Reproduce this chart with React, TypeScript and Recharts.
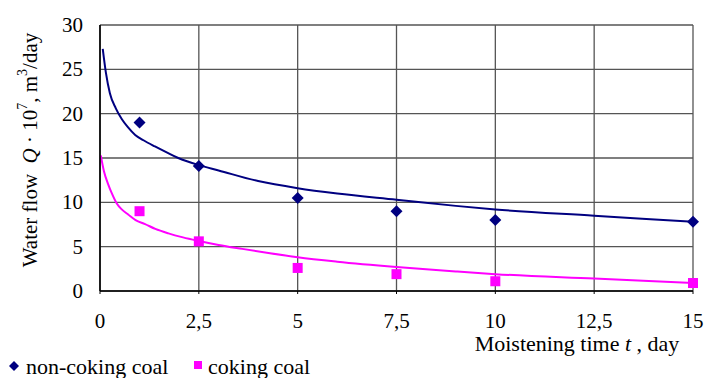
import {
  ComposedChart,
  Line,
  Scatter,
  XAxis,
  YAxis,
  CartesianGrid
} from 'recharts';

// measured points
const timeDays = [1, 2.5, 5, 7.5, 10, 15];
const nonCokingFlow = [19.0, 14.1, 10.5, 9.0, 8.0, 7.8];
const cokingFlow = [9.0, 5.6, 2.6, 1.9, 1.1, 0.9];

// trend lines
const nonCokingTrendTime = [0.07, 0.15, 0.25, 0.4, 0.55, 0.7, 0.89, 1.1, 1.39, 1.7, 1.98, 2.5, 3, 4, 5, 6, 7.5, 9, 10, 12.5, 15];
const nonCokingTrend = [27.3, 24.6, 22.3, 20.6, 19.4, 18.5, 17.6, 17.0, 16.3, 15.6, 15.0, 14.2, 13.6, 12.4, 11.6, 11.0, 10.3, 9.6, 9.2, 8.5, 7.8];
const cokingTrendTime = [0.02, 0.1, 0.21, 0.3, 0.42, 0.55, 0.72, 0.9, 1.14, 1.4, 1.73, 2.1, 2.5, 3, 3.6, 4.3, 5, 6, 7.5, 9, 10, 12.5, 15];
const cokingTrend = [15.3, 13.5, 12.0, 11.0, 9.9, 9.2, 8.6, 8.0, 7.55, 7.0, 6.5, 6.05, 5.65, 5.2, 4.75, 4.25, 3.8, 3.3, 2.7, 2.2, 1.9, 1.4, 0.9];

const xTicks = [0, 2.5, 5, 7.5, 10, 12.5, 15];
const yTicks = [0, 5, 10, 15, 20, 25, 30];

const NAVY = '#000080';
const MAGENTA = '#FF00FF';
const FONT = '"Liberation Serif", "Times New Roman", serif';

const zip = (xs: number[], ys: number[]) => xs.map((x, i) => ({ x, y: ys[i] }));

const nonCokingPoints = zip(timeDays, nonCokingFlow);
const cokingPoints = zip(timeDays, cokingFlow);
const nonCokingLine = zip(nonCokingTrendTime, nonCokingTrend);
const cokingLine = zip(cokingTrendTime, cokingTrend);

const Diamond = (props: any) => {
  const { cx, cy } = props;
  const r = 6;
  return <path d={`M${cx},${cy - r}L${cx + r},${cy}L${cx},${cy + r}L${cx - r},${cy}Z`} fill={NAVY} />;
};

const Square = (props: any) => {
  const { cx, cy } = props;
  return <rect x={cx - 5} y={cy - 5} width={10} height={10} fill={MAGENTA} />;
};

const XTick = (props: any) => {
  const { x, y, payload } = props;
  return (
    <text x={x} y={y} textAnchor='middle' dy={14} fontFamily={FONT} fontSize={21} fill='#000'>
      {String(payload.value).replace('.', ',')}
    </text>
  );
};

const YTick = (props: any) => {
  const { x, y, payload } = props;
  return (
    <text x={x} y={y} textAnchor='end' dy={7} fontFamily={FONT} fontSize={21} fill='#000'>
      {payload.value}
    </text>
  );
};

const YTitle = () => (
  <text
    x={30}
    y={150}
    transform='rotate(-90 30 150)'
    textAnchor='middle'
    dominantBaseline='central'
    fontFamily={FONT}
    fontSize={21}
    fill='#000'
  >
    Water flow{'\u00a0\u00a0'}
    <tspan fontStyle='italic'>Q</tspan>
    {' \u00b7 10'}
    <tspan dy={-8} fontSize={14}>7</tspan>
    <tspan dy={8}>, m</tspan>
    <tspan dy={-8} fontSize={14}>3</tspan>
    <tspan dy={8}>/day</tspan>
  </text>
);

const XTitle = () => (
  <text x={577} y={351} textAnchor='middle' fontFamily={FONT} fontSize={22} fill='#000'>
    Moistening time <tspan fontStyle='italic'>t</tspan> , day
  </text>
);

const LegendSvg = () => (
  <g fontFamily={FONT} fontSize={22} fill='#000'>
    <path d='M14,361L19,366L14,371L9,366Z' fill={NAVY} />
    <text x={26} y={374}>non-coking coal</text>
    <rect x={194} y={361} width={8} height={8} fill={MAGENTA} />
    <text x={208} y={374}>coking coal</text>
  </g>
);

const App = () => (
  <div style={{ position: 'absolute', left: 0, top: 0, background: '#fff' }}>
    <ComposedChart width={705} height={378} margin={{ top: 25, right: 12, left: 40, bottom: 57 }}>
      <CartesianGrid stroke='#555' strokeWidth={1.3} />
      <XAxis
        dataKey='x'
        type='number'
        domain={[0, 15]}
        ticks={xTicks}
        height={30}
        tickSize={3}
        tickMargin={20}
        tick={<XTick />}
        axisLine={{ stroke: '#000', strokeWidth: 1.6 }}
        tickLine={{ stroke: '#000' }}
        allowDuplicatedCategory={false}
      />
      <YAxis
        type='number'
        domain={[0, 30]}
        ticks={yTicks}
        width={60}
        tickSize={0}
        tickMargin={17}
        tickLine={false}
        tick={<YTick />}
        axisLine={{ stroke: '#000', strokeWidth: 1.6 }}
      />
      <Line data={nonCokingLine} dataKey='y' type='monotone' stroke={NAVY} strokeWidth={2} dot={false} isAnimationActive={false} />
      <Line data={cokingLine} dataKey='y' type='monotone' stroke={MAGENTA} strokeWidth={2} dot={false} isAnimationActive={false} />
      <Scatter data={nonCokingPoints} dataKey='y' name='non-coking coal' shape={<Diamond />} isAnimationActive={false} />
      <Scatter data={cokingPoints} dataKey='y' name='coking coal' shape={<Square />} isAnimationActive={false} />
      <YTitle />
      <XTitle />
      <LegendSvg />
    </ComposedChart>
  </div>
);

export default App;
